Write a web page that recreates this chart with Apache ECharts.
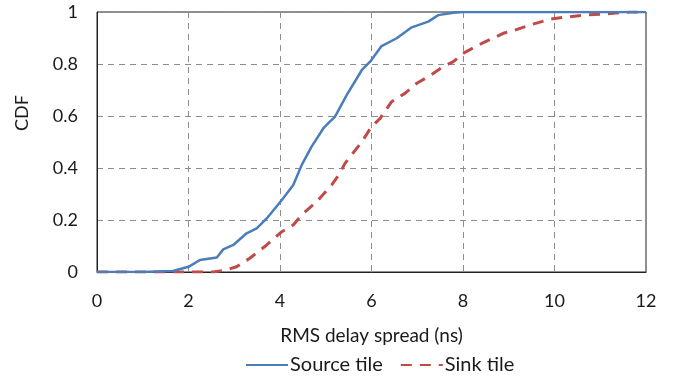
<!DOCTYPE html>
<html>
<head>
<meta charset="utf-8">
<script src="https://cdn.jsdelivr.net/npm/echarts@6/dist/echarts.min.js"></script>
<style>
  html, body { margin: 0; padding: 0; background: #fff; }
  #chart { width: 675px; height: 382px; }
</style>
</head>
<body>
<div id="chart"></div>
<script>
// values
const sourceDelay = [0, 1.0, 1.66, 2.0, 2.25, 2.62, 2.76, 2.98, 3.27, 3.49, 3.71, 4.04, 4.29, 4.47, 4.69, 4.95, 5.09, 5.2, 5.46, 5.79, 5.97, 6.22, 6.55, 6.88, 7.24, 7.46, 7.79, 8.0, 12]
const sourceCdf = [0, 0, 0.004, 0.02, 0.046, 0.056, 0.087, 0.104, 0.149, 0.168, 0.206, 0.277, 0.335, 0.41, 0.482, 0.553, 0.578, 0.597, 0.681, 0.777, 0.809, 0.869, 0.899, 0.941, 0.963, 0.988, 0.997, 1, 1]

const sinkDelay = [0, 1.0, 2.54, 2.83, 3.05, 3.34, 3.71, 4.04, 4.29, 4.47, 4.8, 5.13, 5.31, 5.42, 5.79, 6.0, 6.19, 6.44, 6.73, 6.99, 7.24, 7.57, 7.79, 8.0, 8.41, 8.88, 9.1, 9.46, 9.9, 10.19, 10.63, 11.07, 11.65, 12]
const sinkCdf = [0, 0, 0, 0.008, 0.02, 0.053, 0.104, 0.155, 0.181, 0.219, 0.27, 0.335, 0.38, 0.418, 0.501, 0.559, 0.591, 0.655, 0.687, 0.726, 0.751, 0.79, 0.809, 0.841, 0.879, 0.918, 0.928, 0.95, 0.972, 0.979, 0.988, 0.992, 1, 1]

const seriesNames = ['Source tile', 'Sink tile']

const font = 'Lato, "Open Sans", sans-serif'
const gridColor = '#8c8c8c'
const textColor = '#1a1a1a'

const chart = echarts.init(document.getElementById('chart'))

chart.setOption({
  animation: false,
  textStyle: { fontFamily: font },
  grid: {
    left: 97,
    right: 29,
    top: 12,
    bottom: 110,
    show: true,
    borderColor: '#222',
    borderWidth: 1,
  },
  legend: {
    data: seriesNames,
    bottom: 2,
    left: 240,
    itemWidth: 42,
    itemHeight: 14,
    itemGap: 17,
    itemStyle: { opacity: 0 },
    textStyle: { fontSize: 20, color: textColor, fontFamily: font, padding: [0, 0, 0, -3] },
  },
  xAxis: {
    type: 'value',
    min: 0,
    max: 12,
    interval: 2,
    name: 'RMS delay spread (ns)',
    nameLocation: 'middle',
    nameGap: 54,
    nameTextStyle: { fontSize: 19, color: textColor },
    axisLine: { show: true, lineStyle: { color: '#222', width: 1 } },
    axisTick: { show: false },
    axisLabel: { fontSize: 18, color: textColor, margin: 20 },
    splitLine: { show: true, lineStyle: { color: gridColor, type: [6, 5], width: 1 } },
  },
  yAxis: {
    type: 'value',
    min: 0,
    max: 1,
    interval: 0.2,
    name: 'CDF',
    nameLocation: 'middle',
    nameGap: 66,
    nameTextStyle: { fontSize: 18, color: textColor, padding: [0, 0, 0, 58] },
    axisLine: { show: true, lineStyle: { color: '#222', width: 1 } },
    axisTick: { show: false },
    axisLabel: { fontSize: 18, color: textColor, margin: 19 },
    splitLine: { show: true, lineStyle: { color: gridColor, type: [6, 5], width: 1 } },
  },
  series: [
    {
      name: seriesNames[0],
      type: 'line',
      symbol: 'none',
      data: sourceDelay.map((x, i) => [x, sourceCdf[i]]),
      lineStyle: { color: '#4A7EBB', width: 2.5 },
      itemStyle: { color: '#4A7EBB' },
      z: 3,
    },
    {
      name: seriesNames[1],
      type: 'line',
      symbol: 'none',
      data: sinkDelay.map((x, i) => [x, sinkCdf[i]]),
      lineStyle: { color: '#BE4B48', width: 3, type: [11, 8] },
      itemStyle: { color: '#BE4B48' },
      z: 2,
    },
  ],
})
</script>
</body>
</html>
